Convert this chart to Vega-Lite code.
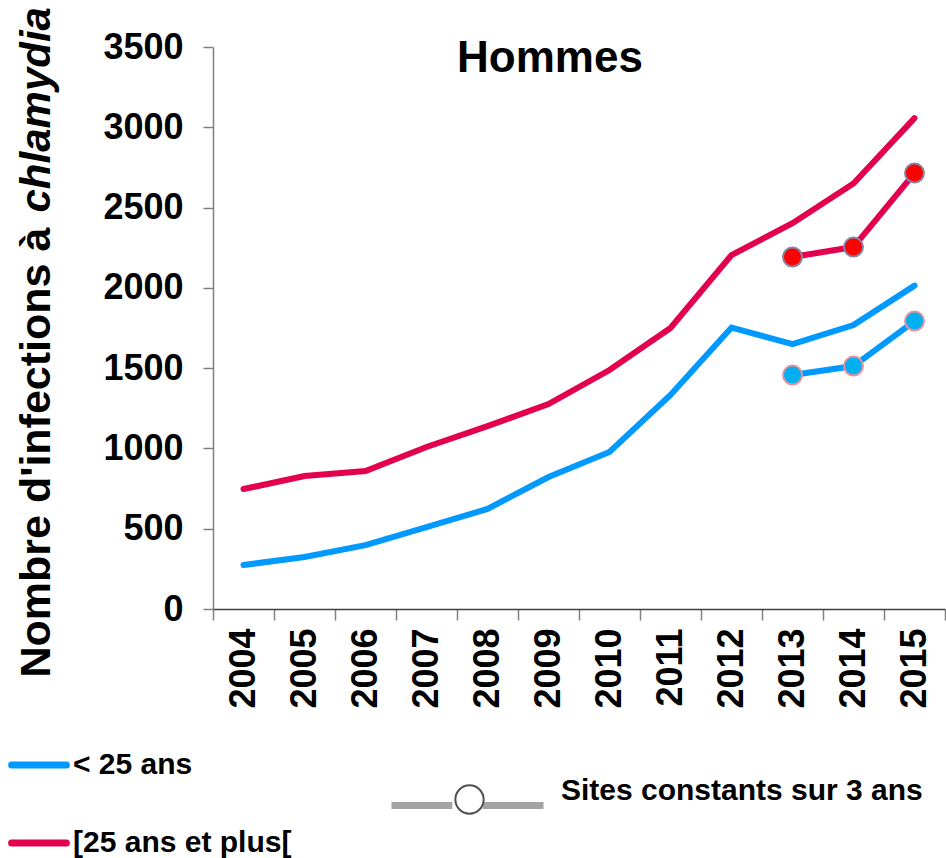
{
  "$schema": "https://vega.github.io/schema/vega-lite/v6.json",
  "width": 732,
  "height": 562,
  "autosize": "none",
  "padding": {"left": 213, "top": 47, "right": 1, "bottom": 249},
  "background": "white",
  "config": {
    "view": {"stroke": null},
    "font": "Liberation Sans",
    "legend": {"padding": 0, "labelFont": "Liberation Sans", "labelFontWeight": "bold", "labelFontSize": 30, "labelColor": "black", "labelLimit": 0}
  },
  "title": {
    "text": "Hommes",
    "fontSize": 44,
    "fontWeight": "bold",
    "font": "Liberation Sans",
    "color": "black",
    "anchor": "middle",
    "frame": "group",
    "dx": -29,
    "offset": -74
  },
  "data": {
    "values": [
      {"year": "2004", "group": "< 25 ans", "series": "total", "value": 274},
      {"year": "2005", "group": "< 25 ans", "series": "total", "value": 324},
      {"year": "2006", "group": "< 25 ans", "series": "total", "value": 398},
      {"year": "2007", "group": "< 25 ans", "series": "total", "value": 510},
      {"year": "2008", "group": "< 25 ans", "series": "total", "value": 623},
      {"year": "2009", "group": "< 25 ans", "series": "total", "value": 822},
      {"year": "2010", "group": "< 25 ans", "series": "total", "value": 978},
      {"year": "2011", "group": "< 25 ans", "series": "total", "value": 1333},
      {"year": "2012", "group": "< 25 ans", "series": "total", "value": 1753},
      {"year": "2013", "group": "< 25 ans", "series": "total", "value": 1650},
      {"year": "2014", "group": "< 25 ans", "series": "total", "value": 1768},
      {"year": "2015", "group": "< 25 ans", "series": "total", "value": 2014},
      {"year": "2004", "group": "[25 ans et plus[", "series": "total", "value": 747},
      {"year": "2005", "group": "[25 ans et plus[", "series": "total", "value": 828},
      {"year": "2006", "group": "[25 ans et plus[", "series": "total", "value": 859},
      {"year": "2007", "group": "[25 ans et plus[", "series": "total", "value": 1009},
      {"year": "2008", "group": "[25 ans et plus[", "series": "total", "value": 1139},
      {"year": "2009", "group": "[25 ans et plus[", "series": "total", "value": 1276},
      {"year": "2010", "group": "[25 ans et plus[", "series": "total", "value": 1488},
      {"year": "2011", "group": "[25 ans et plus[", "series": "total", "value": 1750},
      {"year": "2012", "group": "[25 ans et plus[", "series": "total", "value": 2204},
      {"year": "2013", "group": "[25 ans et plus[", "series": "total", "value": 2403},
      {"year": "2014", "group": "[25 ans et plus[", "series": "total", "value": 2650},
      {"year": "2015", "group": "[25 ans et plus[", "series": "total", "value": 3057},
      {"year": "2013", "group": "< 25 ans", "series": "constant", "site": "Sites constants sur 3 ans", "value": 1457},
      {"year": "2014", "group": "< 25 ans", "series": "constant", "site": "Sites constants sur 3 ans", "value": 1513},
      {"year": "2015", "group": "< 25 ans", "series": "constant", "site": "Sites constants sur 3 ans", "value": 1793},
      {"year": "2013", "group": "[25 ans et plus[", "series": "constant", "site": "Sites constants sur 3 ans", "value": 2192},
      {"year": "2014", "group": "[25 ans et plus[", "series": "constant", "site": "Sites constants sur 3 ans", "value": 2254},
      {"year": "2015", "group": "[25 ans et plus[", "series": "constant", "site": "Sites constants sur 3 ans", "value": 2715}
    ]
  },
  "encoding": {
    "x": {
      "field": "year",
      "type": "ordinal",
      "bandPosition": 0.5,
      "scale": {"type": "band", "paddingInner": 0, "paddingOuter": 0},
      "axis": {
        "title": null,
        "labelAngle": -90,
        "labelFont": "Liberation Sans",
        "labelFontWeight": "bold",
        "labelFontSize": 36,
        "labelColor": "black",
        "labelPadding": 8,
        "tickBand": "extent",
        "tickSize": 11,
        "tickColor": "#808080",
        "tickWidth": 1.5,
        "domainColor": "#404040",
        "domainWidth": 1.5
      }
    }
  },
  "resolve": {"scale": {"y": "shared"}, "axis": {"y": "independent"}},
  "layer": [
    {
      "transform": [{"filter": "datum.series == 'total'"}],
      "mark": {"type": "line", "strokeWidth": 6, "strokeCap": "round"},
      "encoding": {
        "y": {
          "field": "value",
          "type": "quantitative",
          "scale": {"domain": [0, 3500], "nice": false},
          "axis": {
            "orient": "left",
            "title": "Nombre d'infections à",
            "titleFont": "Liberation Sans",
            "titleFontWeight": "bold",
            "titleFontSize": 43,
            "titleColor": "black",
            "titleAngle": -90,
            "titleAlign": "left",
            "titleBaseline": "alphabetic",
            "titleX": -164,
            "titleY": 630,
            "values": [0, 500, 1000, 1500, 2000, 2500, 3000, 3500],
            "format": "d",
            "labelFont": "Liberation Sans",
            "labelFontWeight": "bold",
            "labelFontSize": 36,
            "labelColor": "black",
            "labelPadding": 20,
            "tickSize": 10,
            "tickColor": "#808080",
            "tickWidth": 1.5,
            "domainColor": "#808080",
            "domainWidth": 1.5,
            "grid": false
          }
        },
        "color": {
          "field": "group",
          "type": "nominal",
          "scale": {"domain": ["< 25 ans", "[25 ans et plus["], "range": ["#0099FF", "#E2004F"]},
          "legend": {
            "title": null,
            "orient": "none",
            "legendX": -205,
            "legendY": 687,
            "direction": "vertical",
            "symbolType": "stroke",
            "symbolSize": 3000,
            "symbolStrokeWidth": 7,
            "rowPadding": 32,
            "labelOffset": 3,
            "encode": {"symbols": {"update": {"strokeCap": {"value": "round"}}}}
          }
        }
      }
    },
    {
      "transform": [{"filter": "datum.series == 'constant'"}],
      "mark": {"type": "line", "strokeWidth": 6, "strokeCap": "round"},
      "encoding": {
        "y": {"field": "value", "type": "quantitative", "axis": null},
        "color": {"field": "group", "type": "nominal"},
        "detail": {"field": "group"},
        "opacity": {
          "field": "site",
          "type": "nominal",
          "scale": {"range": [1]},
          "legend": {
            "title": null,
            "orient": "none",
            "legendX": 175,
            "legendY": 679,
            "symbolType": "M-1,0H-0.2M0.2,0H1",
            "symbolSize": 23104,
            "symbolStrokeWidth": 7,
            "symbolStrokeColor": "#A4A4A4",
            "labelExpr": "''",
            "encode": {"symbols": {"update": {"stroke": {"value": "#A4A4A4"}, "strokeWidth": {"value": 7}, "fill": {"value": "transparent"}}}}
          }
        }
      }
    },
    {
      "transform": [{"filter": "datum.series == 'constant'"}],
      "mark": {"type": "point", "filled": true, "color": "white", "size": 360, "strokeWidth": 2, "opacity": 1},
      "encoding": {
        "y": {
          "field": "value",
          "type": "quantitative",
          "axis": {
            "orient": "left",
            "title": "chlamydia",
            "titleFont": "Liberation Sans",
            "titleFontWeight": "bold",
            "titleFontStyle": "italic",
            "titleFontSize": 42,
            "titleColor": "black",
            "titleAngle": -90,
            "titleAlign": "left",
            "titleBaseline": "alphabetic",
            "titleX": -164,
            "titleY": 165,
            "labels": false,
            "ticks": false,
            "domain": false,
            "grid": false
          }
        },
        "fill": {
          "field": "group",
          "type": "nominal",
          "scale": {"domain": ["< 25 ans", "[25 ans et plus["], "range": ["#00B0F0", "#FF0000"]},
          "legend": null
        },
        "stroke": {
          "field": "group",
          "type": "nominal",
          "scale": {"domain": ["< 25 ans", "[25 ans et plus["], "range": ["#E8909C", "#8484A4"]},
          "legend": null
        },
        "shape": {
          "field": "site",
          "type": "nominal",
          "scale": {"range": ["circle"]},
          "legend": {
            "title": null,
            "orient": "none",
            "legendX": 241,
            "legendY": 737,
            "symbolSize": 800,
            "symbolFillColor": "white",
            "symbolStrokeColor": "#505050",
            "symbolStrokeWidth": 2,
            "labelOffset": 76,
            "labelBaseline": "alphabetic",
            "encode": {
              "symbols": {"update": {"fill": {"value": "white"}, "stroke": {"value": "#505050"}, "strokeWidth": {"value": 2}, "opacity": {"value": 1}}}
            }
          }
        }
      }
    }
  ]
}
